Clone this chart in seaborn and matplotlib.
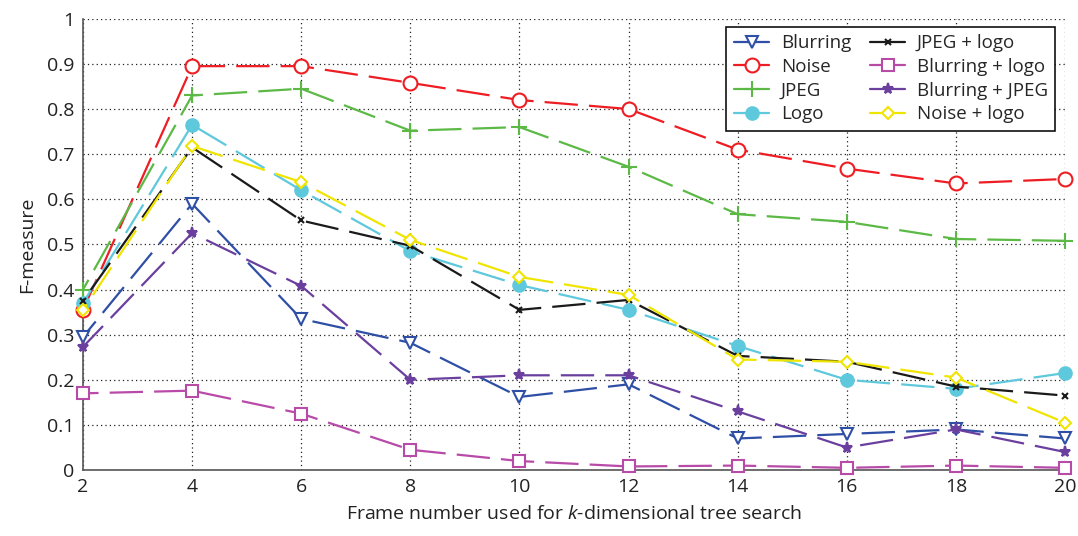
import matplotlib
matplotlib.use("Agg")
import matplotlib.pyplot as plt
from matplotlib.lines import Line2D
import seaborn as sns
import pandas as pd

frames = [2, 4, 6, 8, 10, 12, 14, 16, 18, 20]

blurring = [0.295, 0.590, 0.335, 0.282, 0.162, 0.190, 0.070, 0.080, 0.090, 0.070]
noise = [0.355, 0.895, 0.895, 0.858, 0.820, 0.800, 0.710, 0.668, 0.635, 0.645]
jpeg = [0.400, 0.830, 0.845, 0.752, 0.760, 0.672, 0.567, 0.550, 0.512, 0.508]
logo = [0.370, 0.765, 0.620, 0.485, 0.410, 0.355, 0.275, 0.200, 0.180, 0.215]
jpeg_logo = [0.375, 0.715, 0.553, 0.497, 0.355, 0.377, 0.253, 0.240, 0.185, 0.165]
blurring_logo = [0.170, 0.176, 0.125, 0.045, 0.020, 0.008, 0.010, 0.005, 0.010, 0.005]
blurring_jpeg = [0.273, 0.525, 0.408, 0.200, 0.210, 0.210, 0.130, 0.050, 0.090, 0.040]
noise_logo = [0.355, 0.718, 0.638, 0.510, 0.428, 0.388, 0.245, 0.240, 0.205, 0.105]

series_names = ["Blurring", "Noise", "JPEG", "Logo",
                "JPEG + logo", "Blurring + logo", "Blurring + JPEG", "Noise + logo"]
series_values = [blurring, noise, jpeg, logo,
                 jpeg_logo, blurring_logo, blurring_jpeg, noise_logo]

styles = {
    "Blurring": dict(color="#2f4fa6", marker="v", mfc="white", ms=8),
    "Noise": dict(color="#ee1d23", marker="o", mfc="white", ms=10),
    "JPEG": dict(color="#5cb946", marker="+", mfc="#5cb946", ms=11),
    "Logo": dict(color="#5ec8dc", marker="o", mfc="#5ec8dc", ms=9),
    "JPEG + logo": dict(color="#1a1a1a", marker="x", mfc="#1a1a1a", ms=4),
    "Blurring + logo": dict(color="#b84aa8", marker="s", mfc="white", ms=9),
    "Blurring + JPEG": dict(color="#6a3f9e", marker="*", mfc="#6a3f9e", ms=8),
    "Noise + logo": dict(color="#f0e500", marker="D", mfc="white", ms=6),
}
dash_offsets = [6, 0, 10, 3, 14, 8, 2, 12]

sns.set_style("white")
plt.rcParams["font.family"] = ["Open Sans", "DejaVu Sans"]
plt.rcParams["mathtext.fontset"] = "custom"
plt.rcParams["mathtext.it"] = "Open Sans:italic"
plt.rcParams["mathtext.rm"] = "Open Sans"

fig = plt.figure(figsize=(10.78, 5.36), dpi=100)
ax = fig.add_axes([0.077, 0.123, 0.911, 0.842])

records = []
for name, vals in zip(series_names, series_values):
    for f, v in zip(frames, vals):
        records.append({"frame": f, "F": v, "series": name})
df = pd.DataFrame(records)

handles = []
for name, off in zip(series_names, dash_offsets):
    st = styles[name]
    sub = df[df["series"] == name]
    sns.lineplot(data=sub, x="frame", y="F", ax=ax, color=st["color"],
                 marker=st["marker"], markersize=st["ms"],
                 markerfacecolor=st["mfc"], markeredgecolor=st["color"],
                 markeredgewidth=1.5, linewidth=1.6,
                 linestyle=(off, (15, 5)), legend=False, zorder=3,
                 clip_on=False)
    handles.append(Line2D([0], [0], color=st["color"], marker=st["marker"],
                          markersize=st["ms"], markerfacecolor=st["mfc"],
                          markeredgecolor=st["color"], markeredgewidth=1.5,
                          linewidth=1.6, linestyle="-"))

ax.set_xlim(2, 20)
ax.set_ylim(0, 1)
ax.set_xticks(frames)
ax.set_yticks([i / 10 for i in range(11)])
ax.set_yticklabels(["0", "0.1", "0.2", "0.3", "0.4", "0.5", "0.6",
                    "0.7", "0.8", "0.9", "1"])
ax.grid(True, color="#222222", linestyle=(0, (1, 2.5)), linewidth=0.9)
for side in ["top", "right"]:
    ax.spines[side].set_visible(False)
for side in ["left", "bottom"]:
    ax.spines[side].set_color("#555555")
    ax.spines[side].set_linewidth(1.2)
ax.tick_params(axis="both", labelsize=14, colors="#222222", length=0, pad=6)

ax.set_xlabel("Frame number used for $k$-dimensional tree search",
              fontsize=14, color="#222222", labelpad=6)
ax.set_ylabel("F-measure", fontsize=14, color="#222222", labelpad=8)

leg = ax.legend(handles, series_names, ncol=2, loc="upper right",
                bbox_to_anchor=(0.99, 0.982), borderaxespad=0,
                fontsize=13.5, frameon=True, framealpha=1,
                fancybox=False, edgecolor="#111111", handlelength=1.9,
                handletextpad=0.6, columnspacing=1.0, labelspacing=0.3,
                borderpad=0.4)
leg.get_frame().set_linewidth(1.2)
leg.set_zorder(5)

fig.savefig("out.png", dpi=100)
